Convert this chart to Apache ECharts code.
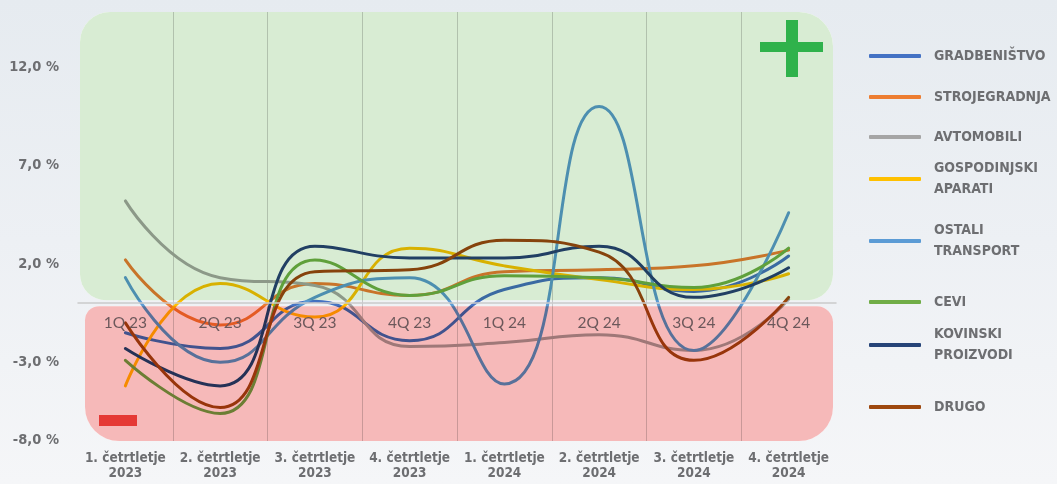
<!DOCTYPE html>
<html><head><meta charset="utf-8">
<script src="https://cdn.jsdelivr.net/npm/echarts@6/dist/echarts.min.js"></script>
<style>
html,body{margin:0;padding:0;width:1057px;height:484px;overflow:hidden;
background:linear-gradient(180deg,#e6ebf0 0%,#edf0f4 50%,#f5f6f8 100%);}
#c{width:1057px;height:484px;}
</style></head><body><div id="c"></div>
<script>
// ---- data ----
const PERIODS = ['1. četrtletje\n2023','2. četrtletje\n2023','3. četrtletje\n2023','4. četrtletje\n2023',
                 '1. četrtletje\n2024','2. četrtletje\n2024','3. četrtletje\n2024','4. četrtletje\n2024'];
const QUARTERS = ['1Q 23','2Q 23','3Q 23','4Q 23','1Q 24','2Q 24','3Q 24','4Q 24'];
const Y_TICKS = [12, 7, 2, -3];
const Y_BOTTOM_LABEL = '-8,0 %';
const SERIES_NAMES = ['GRADBENIŠTVO','STROJEGRADNJA','AVTOMOBILI','GOSPODINJSKI APARATI',
                      'OSTALI TRANSPORT','CEVI','KOVINSKI PROIZVODI','DRUGO'];
const GRADBENISTVO   = [-1.5, -2.3, 0.1, -1.9, 0.7, 1.3, 0.6, 2.4];
const STROJEGRADNJA  = [2.2, -1.1, 1.0, 0.4, 1.6, 1.7, 1.9, 2.7];
const AVTOMOBILI     = [5.2, 1.3, 0.9, -2.2, -2.0, -1.6, -2.4, 0.2];
const GOSPODINJSKI   = [-4.2, 1.0, -0.7, 2.8, 1.9, 1.2, 0.7, 1.5];
const OSTALI         = [1.3, -3.0, 0.3, 1.3, -4.1, 10.0, -2.4, 4.6];
const CEVI           = [-2.9, -5.6, 2.2, 0.4, 1.4, 1.3, 0.8, 2.8];
const KOVINSKI       = [-2.3, -4.2, 2.9, 2.3, 2.3, 2.9, 0.3, 1.8];
const DRUGO          = [-1.0, -5.3, 1.6, 1.7, 3.2, 2.6, -2.9, 0.3];
const SERIES_VALUES = [GRADBENISTVO, STROJEGRADNJA, AVTOMOBILI, GOSPODINJSKI, OSTALI, CEVI, KOVINSKI, DRUGO];

// ---- style ----
const COLORS = ['#4472C4','#ED7D31','#A5A5A5','#FFC000','#5B9BD5','#70AD47','#264478','#9E480E'];
const COND = "'DejaVu Sans Condensed','Liberation Sans Narrow',sans-serif";
const TXT = '#6d6e71';
const Y_MIN = -7, Y_MAX = 14.8;
const LEGEND_FIRST_LINE_Y = [56, 97, 137, 179, 241, 302, 345, 407];

const chart = echarts.init(document.getElementById('c'), null, {renderer:'canvas'});

const legends = SERIES_NAMES.map((n, i) => {
  const two = n.indexOf(' ') >= 0;
  return {
    data: [{name: n, icon: 'roundRect'}],
    orient: 'vertical', left: 869, padding: 0,
    top: LEGEND_FIRST_LINE_Y[i] - (two ? 31.5 : 10.5),
    itemWidth: 52, itemHeight: 4, selectedMode: false,
    formatter: s => s.replace(' ', '\n'),
    textStyle: {color: TXT, fontFamily: COND, fontWeight: 'bold', fontSize: 14,
                lineHeight: 21, padding: [two ? 21 : 0, 0, 0, 8]}
  };
});

chart.setOption({
  animation: false,
  grid: {left: 78, right: 221, top: 12, bottom: 43, containLabel: false},
  legend: legends,
  xAxis: [{
    type: 'category', data: PERIODS, position: 'bottom', boundaryGap: true, z: 1,
    axisLine: {show: false, onZero: false}, axisTick: {show: false},
    axisLabel: {color: TXT, fontFamily: COND, fontWeight: 'bold', fontSize: 13.5, lineHeight: 15, margin: 10, interval: 0},
    splitLine: {show: true, showMinLine: false, showMaxLine: false,
                lineStyle: {color: 'rgba(140,140,140,0.4)', width: 1}}
  }, {
    type: 'category', data: QUARTERS, position: 'top', boundaryGap: true, z: 12,
    axisLine: {show: true, onZero: false, lineStyle: {color: '#cacaca', width: 1.5}},
    axisTick: {show: false},
    axisLabel: {inside: true, margin: 12, color: '#6c585b', fontFamily: 'Lato, sans-serif', fontSize: 15.5, interval: 0},
    splitLine: {show: false}
  }],
  yAxis: {
    type: 'value', min: Y_MIN, max: Y_MAX, interval: 1,
    axisLine: {show: false}, axisTick: {show: false}, splitLine: {show: false},
    axisLabel: {
      margin: 19, color: TXT, fontFamily: COND, fontWeight: 'bold', fontSize: 14.5,
      showMinLabel: true, showMaxLabel: false,
      formatter: v => Y_TICKS.indexOf(v) >= 0 ? v.toFixed(1).replace('.', ',') + ' %' : ''
    }
  },
  series: SERIES_NAMES.map((n, i) => ({
    name: n, type: 'line', data: SERIES_VALUES[i], smooth: 0.5,
    showSymbol: false, symbol: 'none', z: 2,
    lineStyle: {color: COLORS[i], width: 3, cap: 'round'},
    itemStyle: {color: COLORS[i]}
  }))
});

// decorative background panels and zero-line axis placement computed from the axes
const px = (v) => chart.convertToPixel({yAxisIndex: 0}, v);
const cx = (i) => chart.convertToPixel({xAxisIndex: 0}, i);
const band = cx(1) - cx(0);
const left = cx(0) - band / 2, right = cx(PERIODS.length - 1) + band / 2;
const zeroY = px(0), topY = px(Y_MAX), botY = px(Y_MIN);
const G = {x: left + 2, y: topY, width: right - 3 - (left + 2), height: zeroY - 3 - topY, r: [30, 34, 26, 26]};
const R = {x: left + 7, y: zeroY + 3, width: right - 3 - (left + 7), height: botY - zeroY - 3, r: [14, 16, 34, 34]};

chart.setOption({
  xAxis: [{}, {offset: -(zeroY - topY)}],
  graphic: [
    {type: 'rect', z: -5, silent: true, shape: G, style: {fill: '#ffffff'}},
    {type: 'rect', z: -5, silent: true, shape: R, style: {fill: '#ffffff'}},
    {type: 'rect', z: 10, silent: true, shape: G, style: {fill: '#d8ecd3', blend: 'multiply'}},
    {type: 'rect', z: 10, silent: true, shape: R, style: {fill: '#f6b9b9', blend: 'multiply'}},
    // plus sign
    {type: 'rect', z: 30, silent: true, shape: {x: 760, y: 42, width: 63, height: 10}, style: {fill: '#2fb24b'}},
    {type: 'rect', z: 30, silent: true, shape: {x: 786, y: 20, width: 12, height: 57}, style: {fill: '#2fb24b'}},
    // minus sign
    {type: 'rect', z: 30, silent: true, shape: {x: 99, y: 415, width: 38, height: 11}, style: {fill: '#e53935'}},
    // bottom y label
    {type: 'text', z: 30, silent: true, x: left - 19, y: botY - 1,
     style: {text: Y_BOTTOM_LABEL, fill: TXT, font: "bold 14.5px " + COND, align: 'right', verticalAlign: 'middle'}}
  ]
});
</script></body></html>
